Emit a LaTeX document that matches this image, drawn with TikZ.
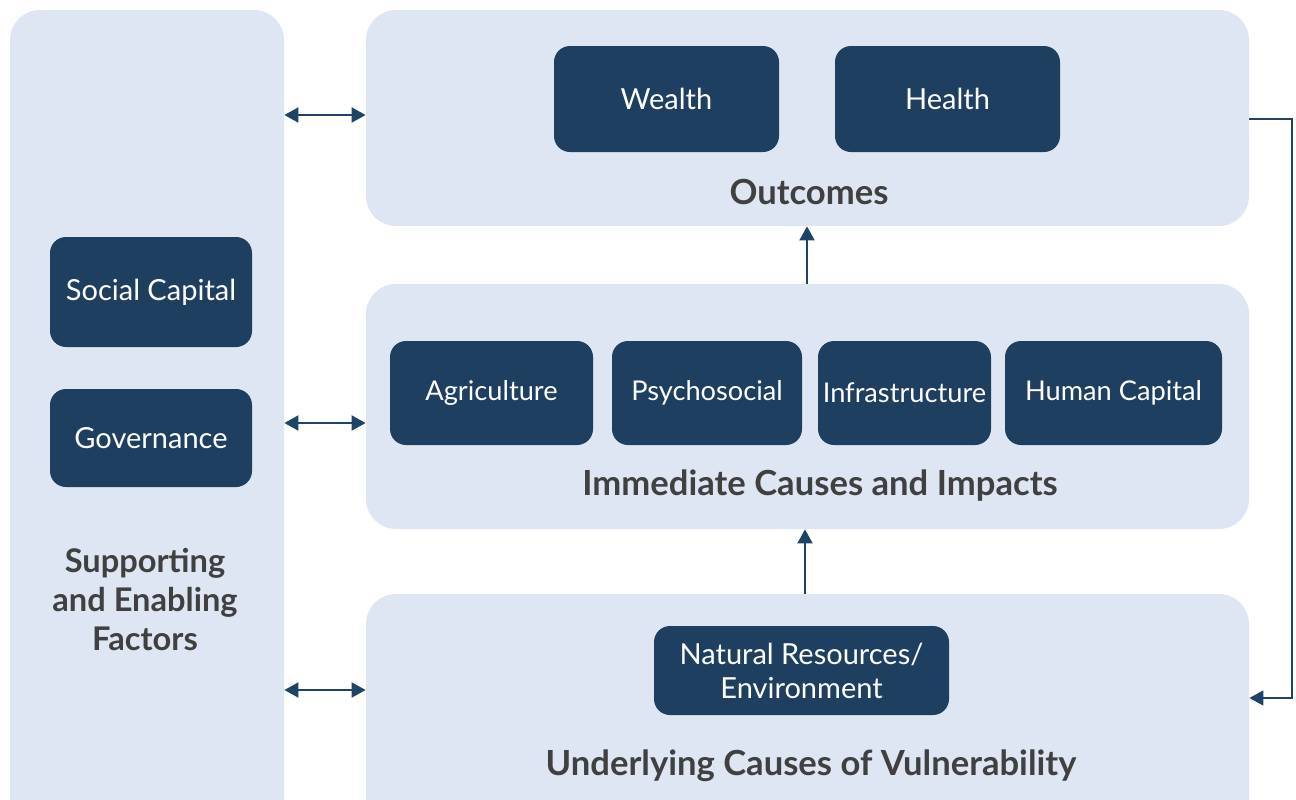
\documentclass[tikz,border=0pt]{standalone}
\usepackage{fontspec}
\setmainfont{Lato}
\usetikzlibrary{calc, positioning, arrows.meta}

\definecolor{panelblue}{HTML}{DDE6F2}
\definecolor{boxblue}{HTML}{1F3F61}
\definecolor{arrowblue}{HTML}{1D4466}
\definecolor{titlegray}{HTML}{404040}

\tikzset{
  panel/.style={rectangle, rounded corners=15pt, fill=panelblue, inner sep=0pt},
  factor/.style={rectangle, rounded corners=8pt, fill=boxblue, text=white,
    font=\fontsize{14.5}{17}\selectfont, inner sep=0pt, align=center},
  narrow/.style={font=\fontsize{13.6}{16}\selectfont},
  paneltitle/.style={text=titlegray, font=\fontsize{17.3}{20}\selectfont\bfseries, align=center},
  link/.style={arrowblue, line width=1pt},
  tip/.style={-{Triangle[length=7pt,width=7.5pt]}},
  bitip/.style={{Triangle[length=7pt,width=7.5pt]}-{Triangle[length=7pt,width=7.5pt]}}
}

\begin{document}
\begin{tikzpicture}[x=0.5pt, y=-0.5pt]
  \useasboundingbox (0,0) rectangle (1296,799);

  % Panels
  \node[panel, minimum width=137pt, minimum height=420pt] (sup) at (147,430) {};
  \node[panel, minimum width=441.5pt, minimum height=108pt] (out) at (807.5,118) {};
  \node[panel, minimum width=441.5pt, minimum height=122.5pt] (imm) at (807.5,406.5) {};
  \node[panel, minimum width=441.5pt, minimum height=118pt] (und) at (807.5,712) {};

  % Panel titles
  \node[paneltitle, font=\fontsize{16.3}{20}\selectfont\bfseries] (suptitle) at (145,599)
    {Supporting\\[-0.5pt]and Enabling\\[-0.5pt]Factors};
  \node[paneltitle] (outtitle) at (809,192) {Outcomes};
  \node[paneltitle] (immtitle) at (820,486) {Immediate Causes and Impacts};
  \node[paneltitle] (undtitle) at (811,766) {Underlying Causes of Vulnerability};

  % Supporting factors
  \node[factor, minimum width=101pt, minimum height=55pt] (soc) at (151,292) {Social Capital};
  \node[factor, minimum width=101pt, minimum height=49pt] (gov) at (151,438) {Governance};

  % Outcomes
  \node[factor, minimum width=112.5pt, minimum height=53pt] (wea) at (666.5,99) {Wealth};
  \node[factor, minimum width=112.5pt, minimum height=53pt] (hea) at (947.5,99) {Health};

  % Immediate causes
  \node[factor, narrow, minimum width=101.5pt, minimum height=52pt] (agr) at (491.5,393) {Agriculture};
  \node[factor, narrow, minimum width=95pt, minimum height=52pt] (psy) at (707,393) {Psychosocial};
  \node[factor, narrow, minimum width=86.5pt, minimum height=52pt] (inf) at (904.5,393) {Infrastructure};
  \node[factor, narrow, minimum width=108.5pt, minimum height=52pt] (hum) at (1113.5,393) {Human Capital};

  % Underlying causes
  \node[factor, minimum width=147.5pt, minimum height=44.5pt] (nat) at (801.5,670.5)
    {Natural Resources/\\Environment};

  % Links between panels
  \draw[link, bitip] (sup.east |- 0,115) -- (out.west |- 0,115);
  \draw[link, bitip] (sup.east |- 0,423) -- (imm.west |- 0,423);
  \draw[link, bitip] (sup.east |- 0,690) -- (und.west |- 0,690);
  \draw[link, tip] (imm.north -| 807,0) -- (out.south -| 807,0);
  \draw[link, tip] (und.north -| 805,0) -- (imm.south -| 805,0);

  % Feedback loop
  \draw[link, line width=0.8pt, tip] (out.east |- 0,119) -- (1292,119) |- (und.east |- 0,698);
\end{tikzpicture}
\end{document}
